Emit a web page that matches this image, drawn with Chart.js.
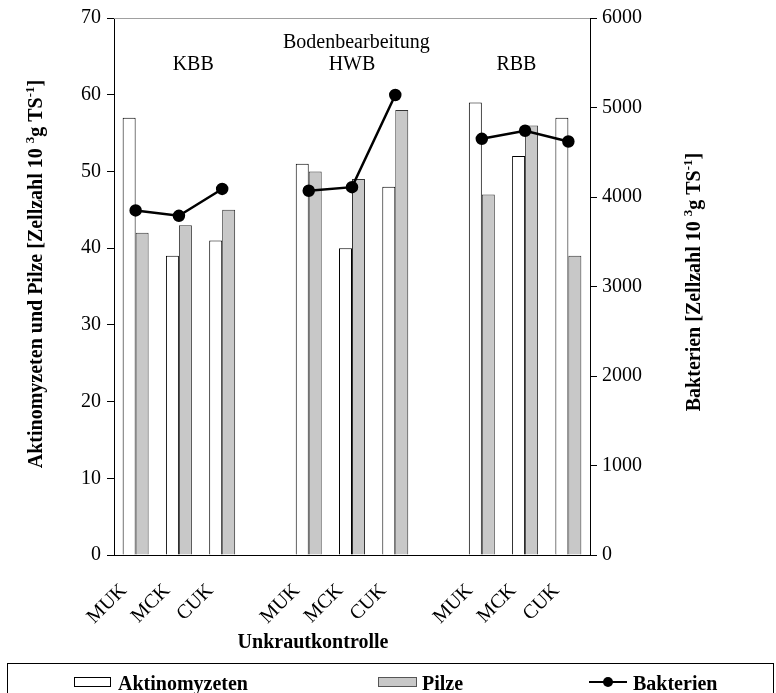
<!DOCTYPE html>
<html>
<head>
<meta charset="utf-8">
<script src="https://cdn.jsdelivr.net/npm/chart.js@4/dist/chart.umd.min.js"></script>
<style>
    body { margin: 0; background: #fff; }
    #wrap { position: relative; width: 776px; height: 693px; overflow: hidden; }
    #legend {
        position: absolute; left: 7px; top: 663px; width: 767px; height: 60px;
        border: 1px solid #000; box-sizing: border-box;
        font-family: 'Liberation Serif', serif; font-weight: bold; font-size: 20px;
    }
    .item { position: absolute; top: 7px; height: 24px; line-height: 24px; }
    .swatch { position: absolute; top: 6px; width: 37px; height: 10px; border: 1px solid #000; box-sizing: border-box; }
    .lbl { position: absolute; left: 44px; top: 0; white-space: nowrap; }
</style>
</head>
<body>
<div id="wrap">
    <canvas id="myChart" width="776" height="693"></canvas>
    <div id="legend">
        <div class="item" style="left: 66px;">
            <div class="swatch" style="background: #fff;"></div>
            <span class="lbl">Aktinomyzeten</span>
        </div>
        <div class="item" style="left: 370px;">
            <div class="swatch" style="background: #c8c8c8; border-color: #555; width: 39px;"></div>
            <span class="lbl">Pilze</span>
        </div>
        <div class="item" style="left: 581px;">
            <div style="position: absolute; top: 10px; width: 38px; height: 2px; background: #000;"></div>
            <div style="position: absolute; top: 6px; left: 14px; width: 10px; height: 10px; border-radius: 50%; background: #000;"></div>
            <span class="lbl">Bakterien</span>
        </div>
    </div>
</div>
<script>
// 11 slots: three weed-control variants per tillage system, empty slot between groups
const categories = ['MUK', 'MCK', 'CUK', '', 'MUK', 'MCK', 'CUK', '', 'MUK', 'MCK', 'CUK'];
const aktinomyzeten = [57, 39, 41, null, 51, 40, 48, null, 59, 52, 57];
const pilze = [42, 43, 45, null, 50, 49, 58, null, 47, 56, 39];
const bakterien = [3850, 3790, 4090, null, 4070, 4110, 5140, null, 4650, 4740, 4620];
const leftTicks = [0, 10, 20, 30, 40, 50, 60, 70];
const rightTicks = [0, 1000, 2000, 3000, 4000, 5000, 6000];
const groupNames = ['KBB', 'HWB', 'RBB'];
const groupPos = [1.33, 5.0, 8.8];   // where the group names sit on the category axis

const serif = "'Liberation Serif', 'Times New Roman', serif";

// draws a rotated / plain title that has superscript parts
function drawRich(ctx, parts, x, y, angle) {
    ctx.save();
    ctx.translate(x, y);
    ctx.rotate(angle);
    ctx.fillStyle = '#000';
    ctx.textBaseline = 'alphabetic';
    ctx.textAlign = 'left';
    let total = 0;
    parts.forEach(p => {
        ctx.font = p.sup ? 'bold 13px ' + serif : 'bold 20px ' + serif;
        total += ctx.measureText(p.t).width;
    });
    let pos = -total / 2;
    parts.forEach(p => {
        ctx.font = p.sup ? 'bold 13px ' + serif : 'bold 20px ' + serif;
        ctx.fillText(p.t, pos, p.sup ? -8 : 0);
        pos += ctx.measureText(p.t).width;
    });
    ctx.restore();
}

const extras = {
    id: 'extras',
    afterDraw(chart) {
        const ctx = chart.ctx;
        const area = chart.chartArea;
        const x = chart.scales.x;

        // thin grey frame line on top
        ctx.save();
        ctx.strokeStyle = '#a0a0a0';
        ctx.lineWidth = 1;
        ctx.beginPath();
        ctx.moveTo(area.left, area.top + 0.5);
        ctx.lineTo(area.right, area.top + 0.5);
        ctx.stroke();

        ctx.fillStyle = '#000';
        ctx.font = '20px ' + serif;
        ctx.textAlign = 'center';
        ctx.textBaseline = 'alphabetic';
        ctx.fillText('Bodenbearbeitung', x.getPixelForValue(5.1), 48);
        groupNames.forEach((g, i) => {
            ctx.fillText(g, x.getPixelForValue(groupPos[i]), 70);
        });

        ctx.font = 'bold 20px ' + serif;
        ctx.fillText('Unkrautkontrolle', 313, 648);
        ctx.restore();

        const unit = [{ t: '10 ' }, { t: '3', sup: true }, { t: 'g TS' }, { t: '-1', sup: true }, { t: ']' }];
        drawRich(ctx, [{ t: 'Aktinomyzeten und Pilze [Zellzahl ' }].concat(unit), 42, 274, -Math.PI / 2);
        drawRich(ctx, [{ t: 'Bakterien [Zellzahl ' }].concat(unit), 700, 282, -Math.PI / 2);
    }
};

new Chart(document.getElementById('myChart'), {
    type: 'bar',
    data: {
        labels: categories,
        datasets: [
            {
                type: 'line',
                label: 'Bakterien',
                data: bakterien,
                yAxisID: 'y2',
                borderColor: '#000',
                backgroundColor: '#000',
                borderWidth: 2.5,
                pointRadius: 5,
                pointBackgroundColor: '#000',
                spanGaps: false,
                order: 0
            },
            {
                label: 'Aktinomyzeten',
                data: aktinomyzeten,
                yAxisID: 'y',
                backgroundColor: '#fff',
                borderColor: '#000',
                borderWidth: 1,
                order: 1
            },
            {
                label: 'Pilze',
                data: pilze,
                yAxisID: 'y',
                backgroundColor: '#c8c8c8',
                borderColor: '#333',
                borderWidth: 1,
                order: 1
            }
        ]
    },
    options: {
        responsive: false,
        animation: false,
        devicePixelRatio: 1,
        layout: { padding: { top: 18 } },
        datasets: { bar: { categoryPercentage: 0.6, barPercentage: 1.0 } },
        plugins: { legend: { display: false }, tooltip: { enabled: false } },
        scales: {
            x: {
                grid: { display: false, drawTicks: false },
                border: { color: '#000', width: 1 },
                ticks: {
                    autoSkip: false, maxRotation: 45, minRotation: 45, padding: 24, labelOffset: -12,
                    color: '#000', font: { family: serif, size: 20 }
                },
                afterFit: s => { s.height = 138; }
            },
            y: {
                position: 'left',
                min: 0, max: 70,
                grid: { drawOnChartArea: false, tickLength: 7, color: '#000' },
                border: { color: '#000', width: 1 },
                ticks: {
                    padding: 6, color: '#000', font: { family: serif, size: 20 },
                    callback: (v) => leftTicks.includes(v) ? v : null, stepSize: 10
                },
                afterFit: s => { s.width = 114; }
            },
            y2: {
                position: 'right',
                min: 0, max: 6000,
                grid: { drawOnChartArea: false, tickLength: 7, color: '#000' },
                border: { color: '#000', width: 1 },
                ticks: {
                    padding: 5, color: '#000', font: { family: serif, size: 20 },
                    callback: (v) => rightTicks.includes(v) ? v : null, stepSize: 1000
                },
                afterFit: s => { s.width = 186; }
            }
        }
    },
    plugins: [extras]
});
</script>
</body>
</html>
